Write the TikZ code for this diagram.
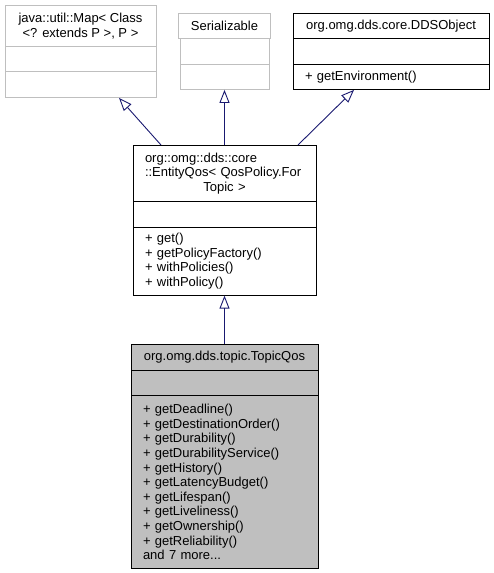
\documentclass[tikz,border=0pt]{standalone}
\usepackage{fontspec}
\setmainfont{Liberation Sans}
\usetikzlibrary{arrows.meta}

\definecolor{edgeblue}{HTML}{191970}
\definecolor{grey75}{HTML}{BFBFBF}
\newcommand{\umlfont}{\fontsize{13}{14.6}\selectfont}

\tikzset{
	cls/.style={draw=black,line width=0.9pt,fill=white,inner xsep=12pt,inner ysep=0pt,anchor=north,font=\umlfont},
	ext/.style={cls,draw=grey75},
	cur/.style={cls,fill=grey75},
	inh/.style={edgeblue,line width=0.9pt,-{Triangle[open,length=13pt,width=10pt]}}
}

\begin{document}
\begin{tikzpicture}[x=1pt,y=-1pt]
	\useasboundingbox (0,0) rectangle (494,573);
	%
	% base classes
	%
	\node [ext,minimum width=151pt,minimum height=41pt,align=center] (mapT) at (80.5,5) {java::util::Map< Class\\<? extends P >, P >};
	\node [ext,minimum width=151pt,minimum height=25pt] (mapA) at (80.5,46) {};
	\node [ext,minimum width=151pt,minimum height=26pt] (mapM) at (80.5,71) {};
	\node [ext,minimum width=89pt,minimum height=25pt] (serT) at (224.5,13) {Serializable};
	\node [ext,minimum width=89pt,minimum height=26pt] (serA) at (224.5,38) {};
	\node [ext,minimum width=89pt,minimum height=25pt] (serM) at (224.5,64) {};
	\node [cls,minimum width=196pt,minimum height=25pt] (ddsT) at (391,13) {org.omg.dds.core.DDSObject};
	\node [cls,minimum width=196pt,minimum height=26pt] (ddsA) at (391,38) {};
	\node [cls,text width=172pt,minimum height=25pt,align=left] (ddsM) at (391,64) {+ getEnvironment()};
	%
	% EntityQos
	%
	\node [cls,text width=159pt,minimum height=56pt,align=left] (entT) at (224.5,145) {org::omg::dds::core\\::EntityQos< QosPolicy.For\\\makebox[\linewidth]{Topic >}};
	\node [cls,minimum width=183pt,minimum height=26pt] (entA) at (224.5,200.7) {};
	\node [cls,text width=159pt,minimum height=68pt,align=left] (entM) at (224.5,226.7) {+ get()\\+ getPolicyFactory()\\+ withPolicies()\\+ withPolicy()};
	%
	% TopicQos
	%
	\node [cur,minimum width=187pt,minimum height=26pt] (topT) at (224.5,344) {org.omg.dds.topic.TopicQos};
	\node [cur,minimum width=187pt,minimum height=25pt] (topA) at (224.5,370) {};
	\node [cur,text width=163pt,minimum height=173pt,align=left] (topM) at (224.5,395) {+ getDeadline()\\+ getDestinationOrder()\\+ getDurability()\\+ getDurabilityService()\\+ getHistory()\\+ getLatencyBudget()\\+ getLifespan()\\+ getLiveliness()\\+ getOwnership()\\+ getReliability()\\and 7 more...};
	%
	%
	%
	\draw [inh] ([xshift=-63.5pt]entT.north) -- ([xshift=38.5pt]mapM.south);
	\draw [inh] (entT.north) -- (serM.south);
	\draw [inh] ([xshift=73.5pt]entT.north) -- ([xshift=-37pt]ddsM.south);
	\draw [inh] (topT.north) -- (entM.south);
\end{tikzpicture}
\end{document}
